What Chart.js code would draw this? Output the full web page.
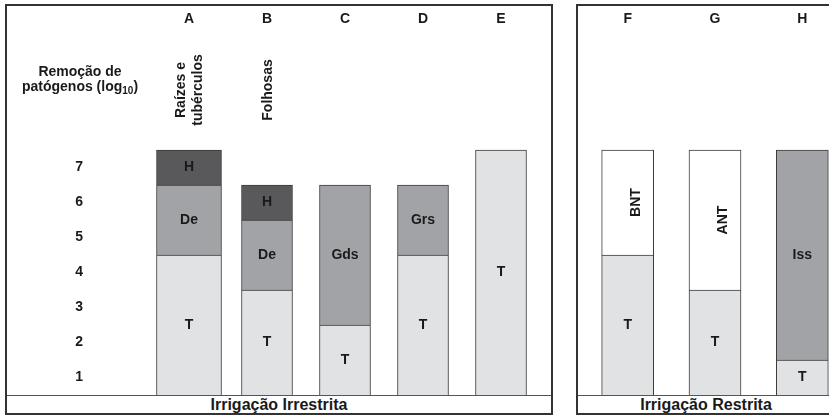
<!DOCTYPE html>
<html>
<head>
<meta charset="utf-8">
<script src="https://cdn.jsdelivr.net/npm/chart.js@4.4.1/dist/chart.umd.min.js"></script>
<style>
  html, body { margin: 0; padding: 0; }
  body { width: 829px; height: 415px; overflow: hidden; position: relative; background: #fff;
         font-family: 'Liberation Sans', Arial, sans-serif; }
  .panel { position: absolute; top: 4px; height: 411px; border: 2px solid #333; box-sizing: border-box; }
  #p1 { left: 5px; width: 548px; }
  #p2 { left: 576px; width: 260px; }
  .panel canvas { position: absolute; left: 0; top: 0; }
  .strip { position: absolute; left: 0; right: 0; top: 389px; height: 18px; border-top: 1px solid #555;
           text-align: center; font-weight: bold; font-size: 16px; line-height: 17px; color: #1a1a1a; }
</style>
</head>
<body>
<div class="panel" id="p1">
  <canvas id="irrestrita" width="544" height="389"></canvas>
  <div class="strip">Irrigação Irrestrita</div>
</div>
<div class="panel" id="p2">
  <canvas id="restrita" width="268" height="389"></canvas>
  <div class="strip">Irrigação Restrita</div>
</div>

<script>
// ---- data: log10 pathogen removal per barrier ----
const groupsIrrestrita = ['A', 'B', 'C', 'D', 'E'];
const tratamento1 = [4, 3, 2, 4, 7];            // T
const barreira1 = [2, 2, 4, 2, null];           // De / Gds / Grs
const barreira1Names = ['De', 'De', 'Gds', 'Grs', ''];
const higiene1 = [1, 1, null, null, null];      // H
const higiene1Names = ['H', 'H', '', '', ''];
const columnNotes = [['Raízes e', 'tubérculos'], ['Folhosas'], [], [], []];

const groupsRestrita = ['F', 'G', 'H'];
const tratamento2 = [4, 3, 1];                  // T
const barreira2 = [3, 4, 6];                    // BNT / ANT / Iss
const barreira2Names = ['BNT', 'ANT', 'Iss'];

const yTickLabels = ['1', '2', '3', '4', '5', '6', '7'];

// ---- style ----
const FONT = "'Liberation Sans', Arial, sans-serif";
const TEXT = '#1a1a1a';
const LIGHT = '#e1e2e4';
const MID = '#a2a3a6';
const DARK = '#59595b';
const WHITE = '#ffffff';
const EDGE = '#3c3c3c';
const rotatedNames = ['BNT', 'ANT'];

Chart.defaults.font.family = FONT;
Chart.defaults.color = TEXT;
Chart.defaults.animation = false;

function barSet(data, names, colors, thickness) {
  return {
    data, names,
    backgroundColor: colors,
    borderColor: EDGE,
    borderWidth: 1,
    barThickness: thickness,
    stack: 's'
  };
}

// first column (A) is drawn wider than the rest
function splitFirst(data, names, color) {
  const first = data.map((v, i) => i === 0 ? v : null);
  const rest = data.map((v, i) => i === 0 ? null : v);
  return [barSet(first, names, color, 65), barSet(rest, names, color, 51)];
}

const segmentLabels = {
  id: 'segmentLabels',
  afterDatasetsDraw(chart) {
    const { ctx } = chart;
    ctx.save();
    ctx.fillStyle = TEXT;
    ctx.font = `bold 14px ${FONT}`;
    ctx.textAlign = 'center';
    ctx.textBaseline = 'middle';
    chart.data.datasets.forEach((ds, di) => {
      chart.getDatasetMeta(di).data.forEach((el, j) => {
        if (ds.data[j] == null || !ds.names[j]) return;
        const name = ds.names[j];
        const cy = (el.y + el.base) / 2;
        if (rotatedNames.includes(name)) {
          ctx.save();
          ctx.translate(el.x + 8, cy);
          ctx.rotate(-Math.PI / 2);
          ctx.fillText(name, 0, 0);
          ctx.restore();
        } else {
          ctx.fillText(name, el.x, cy);
        }
      });
    });
    ctx.restore();
  }
};

const notes = {
  id: 'notes',
  afterDraw(chart) {
    const { ctx, scales: { x, y } } = chart;
    ctx.save();
    ctx.fillStyle = TEXT;
    ctx.textBaseline = 'middle';
    ctx.font = `bold 14px ${FONT}`;

    // axis title, with subscript 10
    const cx = y.right - 70;
    ctx.textAlign = 'center';
    ctx.fillText('Remoção de', cx, 66);
    const head = 'patógenos (log', sub = '10', tail = ')';
    const wHead = ctx.measureText(head).width;
    const wTail = ctx.measureText(tail).width;
    ctx.font = `bold 10px ${FONT}`;
    const wSub = ctx.measureText(sub).width;
    let sx = cx - (wHead + wSub + wTail) / 2;
    ctx.textAlign = 'left';
    ctx.font = `bold 14px ${FONT}`;
    ctx.fillText(head, sx, 81);
    ctx.font = `bold 10px ${FONT}`;
    ctx.fillText(sub, sx + wHead, 85);
    ctx.font = `bold 14px ${FONT}`;
    ctx.fillText(tail, sx + wHead + wSub, 81);

    // rotated crop notes above the columns
    ctx.textAlign = 'center';
    columnNotes.forEach((lines, i) => {
      if (!lines.length) return;
      ctx.save();
      ctx.translate(x.getPixelForValue(i) + 1, 84);
      ctx.rotate(-Math.PI / 2);
      lines.forEach((t, k) => ctx.fillText(t, 0, (k - (lines.length - 1) / 2) * 17));
      ctx.restore();
    });
    ctx.restore();
  }
};

function topAxis(labels) {
  return {
    type: 'category', position: 'top', labels, offset: true,
    grid: { display: false, drawTicks: false }, border: { display: false },
    afterFit: ax => { ax.height = 39; },
    ticks: { padding: 17, color: TEXT, font: { size: 14, weight: 'bold' } }
  };
}

const plainY = (display) => ({
  stacked: true, min: 0, max: 10, display,
  grid: { display: false, drawTicks: false }, border: { display: false }
});

new Chart(document.getElementById('irrestrita'), {
  type: 'bar',
  data: {
    labels: groupsIrrestrita,
    datasets: [
      ...splitFirst(tratamento1, groupsIrrestrita.map(() => 'T'), LIGHT),
      ...splitFirst(barreira1, barreira1Names, MID),
      ...splitFirst(higiene1, higiene1Names, DARK)
    ]
  },
  options: {
    responsive: false,
    layout: { padding: { left: 0, right: 11, top: 0, bottom: 0 } },
    plugins: { legend: { display: false }, tooltip: { enabled: false } },
    scales: {
      x: { stacked: true, display: false },
      x2: topAxis(groupsIrrestrita),
      y: {
        ...plainY(true),
        afterBuildTicks: ax => { ax.ticks = yTickLabels.map((_, i) => ({ value: i + 0.5 })); },
        afterFit: ax => { ax.width = 143; ax.paddingTop = 0; ax.paddingBottom = 0; },
        ticks: { padding: 67, color: TEXT, font: { size: 14, weight: 'bold' },
                 callback: (v, i) => yTickLabels[i] }
      }
    }
  },
  plugins: [segmentLabels, notes]
});

new Chart(document.getElementById('restrita'), {
  type: 'bar',
  data: {
    labels: groupsRestrita,
    datasets: [
      barSet(tratamento2, groupsRestrita.map(() => 'T'), LIGHT, 52),
      barSet(barreira2, barreira2Names, barreira2Names.map(n => rotatedNames.includes(n) ? WHITE : MID), 52)
    ]
  },
  options: {
    responsive: false,
    layout: { padding: { left: 6, right: 0, top: 0, bottom: 0 } },
    plugins: { legend: { display: false }, tooltip: { enabled: false } },
    scales: {
      x: { stacked: true, display: false },
      x2: topAxis(groupsRestrita),
      y: plainY(false)
    }
  },
  plugins: [segmentLabels]
});
</script>
</body>
</html>
